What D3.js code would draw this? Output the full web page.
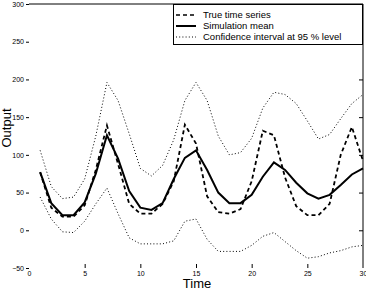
<!DOCTYPE html>
<html>
<head>
<meta charset="utf-8">
<script src="https://cdn.jsdelivr.net/npm/d3@7"></script>
<style>
  body { margin: 0; background: #fff; }
  text { font-family: "Liberation Sans", Arial, sans-serif; }
</style>
</head>
<body>
<script>
// values, t = 1..30
var times = d3.range(1, 31);
var trueSeries = [77, 30, 18, 18, 33, 80, 139, 88, 35, 22, 22, 35, 65, 140, 115,
                  45, 24, 22, 28, 65, 132, 126, 70, 32, 20, 20, 35, 100, 137, 92];
var simMean    = [77, 36, 20, 20, 37, 75, 126, 95, 52, 30, 27, 36, 68, 96, 106,
                  80, 50, 36, 36, 47, 71, 90, 80, 63, 49, 42, 47, 60, 74, 82];
var upperCI    = [106, 58, 42, 44, 68, 125, 196, 172, 128, 82, 72, 86, 120, 172, 196,
                  172, 125, 100, 103, 122, 162, 183, 180, 168, 145, 121, 127, 148, 168, 180];
var lowerCI    = [44, 15, -2, -3, 12, 35, 56, 22, -10, -18, -18, -18, -14, 12, 15,
                  -12, -28, -28, -28, -20, -8, -3, -15, -27, -37, -35, -30, -27, -22, -20];
var xTicks = [0, 5, 10, 15, 20, 25, 30];
var yTicks = [-50, 0, 50, 100, 150, 200, 250, 300];
var legendLabels = ["True time series", "Simulation mean", "Confidence interval at 95 % level"];

var W = 366, H = 290;
var svg = d3.select("body").append("svg")
    .attr("width", W)
    .attr("height", H);

var x = d3.scaleLinear().domain([0, 30]).range([29, 363]);
var y = d3.scaleLinear().domain([-50, 300]).range([268, 4]);

// frame: only top and right edges are drawn
svg.append("line")
    .attr("x1", x(0)).attr("x2", x(30))
    .attr("y1", y(300)).attr("y2", y(300))
    .attr("stroke", "#000");
svg.append("line")
    .attr("x1", x(30)).attr("x2", x(30))
    .attr("y1", y(300)).attr("y2", y(-50))
    .attr("stroke", "#000");

// left axis (labels + short outward ticks)
var yAxis = svg.append("g")
    .attr("transform", "translate(" + x(0) + ",0)")
    .call(d3.axisLeft(y).tickValues(yTicks).tickSize(3).tickPadding(2));
yAxis.select(".domain").remove();
yAxis.selectAll("text").attr("font-size", 7).attr("font-family", "Liberation Sans, Arial, sans-serif");

// right axis inward ticks
svg.append("g")
    .attr("transform", "translate(" + x(30) + ",0)")
    .call(d3.axisLeft(y).tickValues(yTicks.slice(1, -1)).tickSize(4).tickFormat(""))
    .select(".domain").remove();

// bottom axis
var xAxis = svg.append("g")
    .attr("transform", "translate(0," + y(-50) + ")")
    .call(d3.axisBottom(x).tickValues(xTicks).tickSize(0).tickPadding(3));
xAxis.select(".domain").remove();
xAxis.selectAll("text").attr("font-size", 7).attr("font-family", "Liberation Sans, Arial, sans-serif");
svg.append("g")
    .attr("transform", "translate(0," + y(-50) + ")")
    .call(d3.axisTop(x).tickValues(xTicks.slice(1, -1)).tickSize(4).tickFormat(""))
    .select(".domain").remove();

var line = d3.line()
    .x(function(d, i) { return x(times[i]); })
    .y(function(d) { return y(d); });

var series = [
  {data: upperCI,    width: 1,   dash: "1,2.2"},
  {data: lowerCI,    width: 1,   dash: "1,2.2"},
  {data: trueSeries, width: 1.8, dash: "4,3"},
  {data: simMean,    width: 2,   dash: null}
];

svg.selectAll("path.series")
  .data(series)
  .enter().append("path")
    .attr("class", "series")
    .attr("fill", "none")
    .attr("stroke", "#000")
    .attr("stroke-width", function(d) { return d.width; })
    .attr("stroke-dasharray", function(d) { return d.dash; })
    .attr("d", function(d) { return line(d.data); });

// legend
var lg = svg.append("g");
lg.append("rect")
    .attr("x", 173.5).attr("y", 4.5)
    .attr("width", 189).attr("height", 40)
    .attr("fill", "#fff").attr("stroke", "#000");
var legendStyles = [
  {width: 1.6, dash: "4,3"},
  {width: 2,   dash: null},
  {width: 1,   dash: "1,2.2"}
];
legendLabels.forEach(function(lbl, i) {
  var yy = 15 + i * 11;
  lg.append("line")
      .attr("x1", 176).attr("x2", 196)
      .attr("y1", yy).attr("y2", yy)
      .attr("stroke", "#000")
      .attr("stroke-width", legendStyles[i].width)
      .attr("stroke-dasharray", legendStyles[i].dash);
  lg.append("text")
      .attr("x", 203).attr("y", yy + 3.3)
      .attr("font-size", 9.5)
      .text(lbl);
});

// axis titles
svg.append("text")
    .attr("transform", "translate(11,128) rotate(-90)")
    .attr("text-anchor", "middle")
    .attr("font-size", 13)
    .text("Output");
svg.append("text")
    .attr("x", 197).attr("y", 288)
    .attr("text-anchor", "middle")
    .attr("font-size", 13)
    .text("Time");
</script>
</body>
</html>
